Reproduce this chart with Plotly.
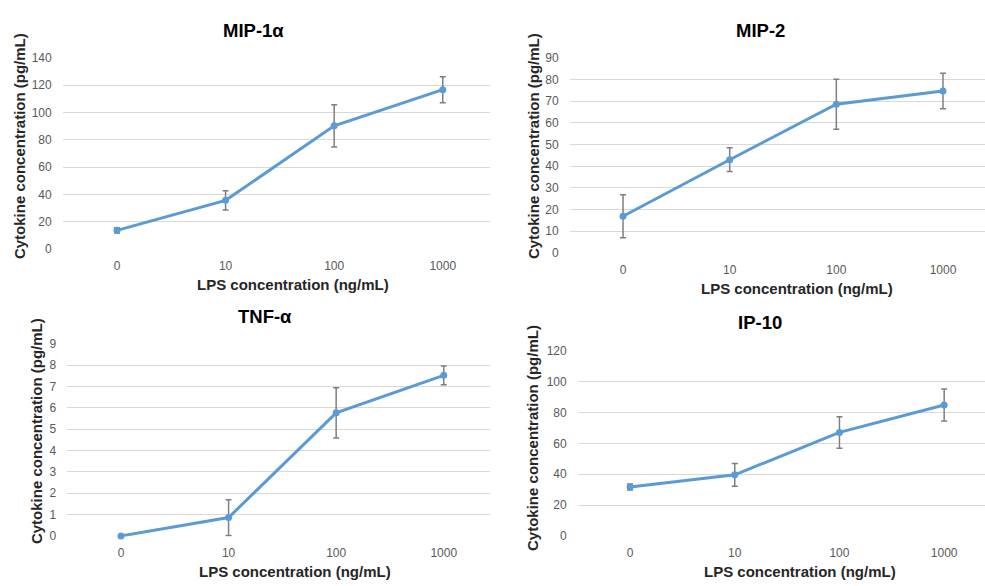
import plotly.graph_objects as go

W, H = 985, 586

categories = ["0", "10", "100", "1000"]

mip1a_vals = [13.6, 35.6, 90.2, 116.7]
mip1a_err = [2.0, 7.0, 15.5, 9.5]

mip2_vals = [16.9, 43.0, 68.6, 74.7]
mip2_err = [9.9, 5.5, 11.5, 8.2]

tnfa_vals = [0.0, 0.86, 5.77, 7.53]
tnfa_err = [0.03, 0.84, 1.18, 0.44]

ip10_vals = [31.7, 39.6, 67.1, 84.9]
ip10_err = [2.0, 7.4, 10.2, 10.4]

titles = ["MIP-1α", "MIP-2", "TNF-α", "IP-10"]
y_ticks = [list(range(0, 141, 20)), list(range(0, 91, 10)), list(range(0, 10, 1)), list(range(0, 121, 20))]

LINE = "#5B9BD5"
ERR = "#7F7F7F"
GRID = "#D9D9D9"
TICK = "#595959"
FONT = "Liberation Sans, Arial, sans-serif"

panels = [
    dict(x0=62.7, x1=490, ytop=53, ybot=248, xend=3.435, ymax=140,
         title=(253, 25), xt=(293, 284), yt=(19, 143)),
    dict(x0=569.7, x1=985, ytop=53, ybot=252, xend=3.394, ymax=90,
         title=(760, 25), xt=(797, 288), yt=(533, 143)),
    dict(x0=67.2, x1=490, ytop=345, ybot=541, xend=3.43, ymax=9,
         title=(265, 317), xt=(295, 577), yt=(36, 434)),
    dict(x0=577.7, x1=985, ytop=352, ybot=541, xend=3.39, ymax=120,
         title=(760, 323), xt=(800, 577), yt=(533, 441)),
]

data = [(mip1a_vals, mip1a_err), (mip2_vals, mip2_err), (tnfa_vals, tnfa_err), (ip10_vals, ip10_err)]

fig = go.Figure()
annotations = []
layout = {}
for i, (p, (vals, errs)) in enumerate(zip(panels, data)):
    n = "" if i == 0 else str(i + 1)
    xa, ya = "x" + n, "y" + n
    fig.add_trace(go.Scatter(
        x=categories, y=vals, xaxis=xa, yaxis=ya, mode="lines+markers",
        line=dict(color=LINE, width=3), marker=dict(color=LINE, size=7),
        error_y=dict(type="data", array=errs, visible=True, color=ERR, thickness=1.5, width=3),
        showlegend=False, cliponaxis=False))
    pad = p["ymax"] * 0.004
    ppu = (p["ybot"] - p["ytop"]) / p["ymax"]
    ytop_px = p["ytop"] - pad * ppu
    ybot_px = p["ybot"] + pad * ppu
    layout["xaxis" + n] = dict(
        domain=[p["x0"] / W, p["x1"] / W], anchor=ya, type="category",
        range=[-0.5, p["xend"]], showgrid=False, zeroline=False, showline=False,
        tickfont=dict(family=FONT, size=12, color=TICK), ticks="", ticklabelstandoff=7)
    layout["yaxis" + n] = dict(
        domain=[1 - ybot_px / H, 1 - ytop_px / H], anchor=xa,
        range=[-pad, p["ymax"] + pad], tickvals=y_ticks[i], showgrid=True, gridcolor=GRID,
        gridwidth=1.3, zeroline=False, showline=False, ticks="",
        tickfont=dict(family=FONT, size=12, color=TICK), ticklabelstandoff=10)
    annotations.append(dict(x=p["title"][0] / W, y=1 - p["title"][1] / H, xref="paper", yref="paper",
                            text="<b>%s</b>" % titles[i], showarrow=False,
                            font=dict(family=FONT, size=18.5, color="#000000"),
                            xanchor="center", yanchor="middle"))
    annotations.append(dict(x=p["xt"][0] / W, y=1 - p["xt"][1] / H, xref="paper", yref="paper",
                            text="<b>LPS concentration (ng/mL)</b>", showarrow=False,
                            font=dict(family=FONT, size=15, color="#262626"),
                            xanchor="center", yanchor="middle"))
    annotations.append(dict(x=p["yt"][0] / W, y=1 - p["yt"][1] / H, xref="paper", yref="paper",
                            text="<b>Cytokine concentration (pg/mL)</b>", showarrow=False, textangle=-90,
                            font=dict(family=FONT, size=15, color="#262626"),
                            xanchor="center", yanchor="middle"))

fig.update_layout(
    width=W, height=H, margin=dict(l=0, r=0, t=0, b=0),
    paper_bgcolor="white", plot_bgcolor="white",
    annotations=annotations, **layout)

fig.write_html("out.html")
